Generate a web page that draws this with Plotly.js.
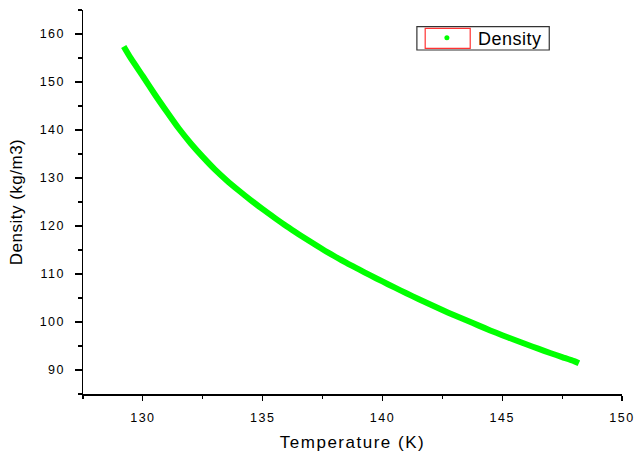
<!DOCTYPE html>
<html>
<head>
<meta charset="utf-8">
<script src="https://cdn.plot.ly/plotly-3.0.1.min.js"></script>
<style>
  html, body { margin: 0; padding: 0; background: #fff; }
  #chart { width: 635px; height: 453px; }
  .xtick text, .ytick text { letter-spacing: 1.5px; }
  .g-xtitle text { letter-spacing: 1.5px; }
  .g-ytitle text { letter-spacing: 0.5px; }
  .annotation-text { letter-spacing: 0.5px; }
</style>
</head>
<body>
<div id="chart"></div>
<script>
// Density along the temperature sweep
const temperatureK = [
  129.2, 129.5, 130.0, 130.5, 131.0, 131.5, 132.0, 132.5, 133.0, 133.5,
  134.0, 134.5, 135.0, 135.5, 136.0, 136.5, 137.0, 137.5, 138.0, 138.5,
  139.0, 139.5, 140.0, 140.5, 141.0, 141.5, 142.0, 142.5, 143.0, 143.5,
  144.0, 144.5, 145.0, 145.5, 146.0, 146.5, 147.0, 147.5, 148.0, 148.2
];
const densityKgM3 = [
  157.4, 154.9, 151.2, 147.4, 143.8, 140.3, 137.2, 134.4, 131.8, 129.5,
  127.4, 125.4, 123.5, 121.7, 119.95, 118.3, 116.7, 115.15, 113.7, 112.3,
  111.0, 109.7, 108.45, 107.2, 106.0, 104.8, 103.65, 102.5, 101.4, 100.35,
  99.3, 98.25, 97.25, 96.3, 95.35, 94.45, 93.55, 92.7, 91.85, 91.4
];
const seriesName = 'Density';

const green = '#00ff00';
const font = 'Arial, "Liberation Sans", sans-serif';

const traces = [
  {
    x: temperatureK, y: densityKgM3,
    type: 'scatter', mode: 'lines',
    name: seriesName,
    line: { color: green, width: 6, shape: 'spline', smoothing: 0.6 },
    hoverinfo: 'skip'
  }
];

// plot area in pixels: x 83..621.7, y 10..394
const W = 635, H = 453;
const L = 83, R = W - 621.7, T = 10, B = H - 394;
const pw = W - L - R, ph = H - T - B;
const px = v => (v - L) / pw;
const py = v => (H - B - v) / ph;

const axisCommon = {
  showline: true, linecolor: '#000', linewidth: 1.5,
  showgrid: false, zeroline: false,
  ticks: 'outside', tickcolor: '#000', tickwidth: 1.2,
  tickfont: { family: font, size: 12.5, color: '#000' },
  mirror: false, automargin: false
};

const layout = {
  width: W, height: H,
  margin: { l: L, r: R, t: T, b: B },
  paper_bgcolor: '#fff', plot_bgcolor: '#fff',
  font: { family: font, color: '#000' },
  showlegend: false,
  xaxis: Object.assign({}, axisCommon, {
    range: [127.5, 150], tick0: 130, dtick: 5, ticklen: 5,
    ticklabelstandoff: 6,
    minor: { dtick: 2.5, tick0: 127.5, ticks: 'outside', ticklen: 3, tickcolor: '#000', tickwidth: 1.2 },
    title: { text: 'Temperature (K)', font: { family: font, size: 17, color: '#000' }, standoff: 12 }
  }),
  yaxis: Object.assign({}, axisCommon, {
    range: [85, 165], tick0: 0, dtick: 10, ticklen: 7,
    ticklabelstandoff: 7,
    minor: { dtick: 5, tick0: 0, ticks: 'outside', ticklen: 4, tickcolor: '#000', tickwidth: 1.2 },
    title: { text: 'Density (kg/m3)', font: { family: font, size: 17, color: '#000' }, standoff: 12 }
  }),
  // legend box: outer frame, red symbol frame, green dot, label
  shapes: [
    {
      type: 'rect', xref: 'paper', yref: 'paper',
      x0: px(416.7), x1: px(549), y0: py(50), y1: py(26.7),
      line: { color: '#333', width: 1.2 }, fillcolor: '#fff'
    },
    {
      type: 'rect', xref: 'paper', yref: 'paper',
      x0: px(425), x1: px(470), y0: py(48.3), y1: py(28.3),
      line: { color: '#ff3333', width: 1.2 }, fillcolor: 'rgba(0,0,0,0)'
    },
    {
      type: 'circle', xref: 'paper', yref: 'paper',
      x0: px(444.2), x1: px(449.2), y0: py(40.2), y1: py(35.2),
      line: { width: 0 }, fillcolor: green
    }
  ],
  annotations: [
    {
      xref: 'paper', yref: 'paper',
      x: px(475.5), y: py(38.5), xanchor: 'left', yanchor: 'middle',
      text: seriesName, showarrow: false,
      font: { family: font, size: 18, color: '#000' }
    }
  ]
};

Plotly.newPlot('chart', traces, layout, { staticPlot: true, displayModeBar: false });
</script>
</body>
</html>
